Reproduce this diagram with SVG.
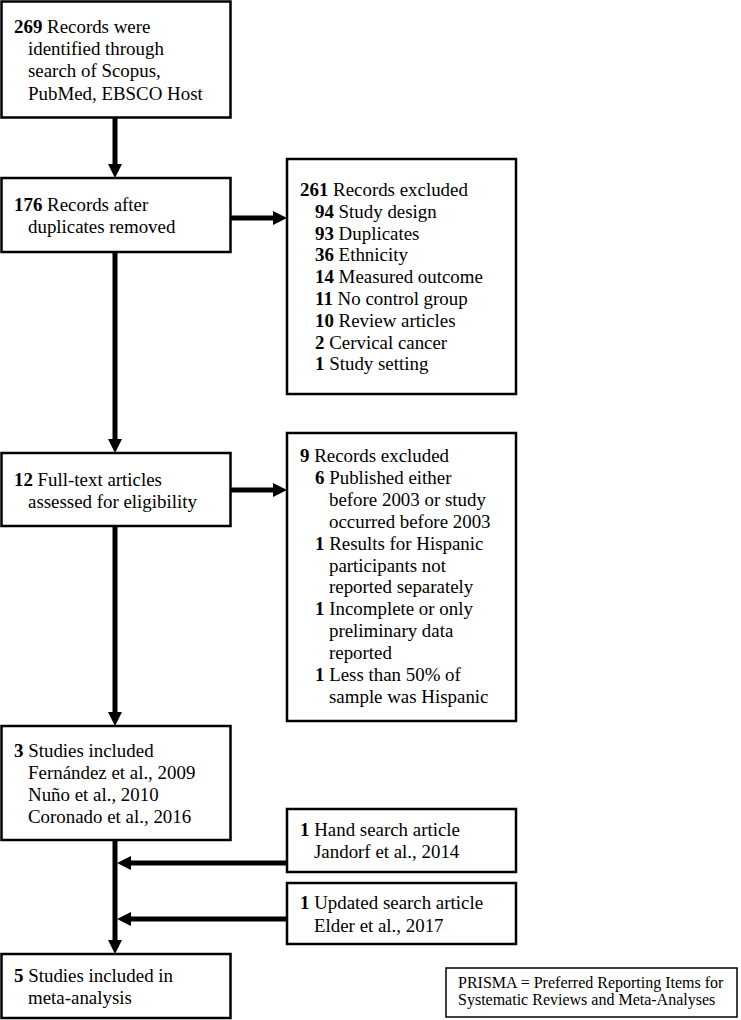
<svg xmlns="http://www.w3.org/2000/svg" width="741" height="1020" viewBox="0 0 741 1020">
<style>
.box{fill:#fff;stroke:#000;stroke-width:2.5}
.note{fill:#fff;stroke:#000;stroke-width:1.5}
.t{font-family:'Liberation Serif','Times New Roman',serif;font-size:18.9px;fill:#000}
.b{font-weight:bold}
.small{font-size:16px}
.con{stroke:#000;stroke-width:5;fill:none}
</style>
<defs>
<marker id="ah" markerUnits="userSpaceOnUse" markerWidth="14" markerHeight="14" refX="0" refY="7" orient="auto">
<path d="M0,0 L14,7 L0,14 z" fill="#000"/>
</marker>
</defs>
<rect width="741" height="1020" fill="#fff"/>
<g id="connectors">
<line class="con" x1="115" y1="117" x2="115" y2="164" marker-end="url(#ah)"/>
<line class="con" x1="231" y1="218" x2="273" y2="218" marker-end="url(#ah)"/>
<line class="con" x1="115" y1="252" x2="115" y2="439" marker-end="url(#ah)"/>
<line class="con" x1="231" y1="490" x2="273" y2="490" marker-end="url(#ah)"/>
<line class="con" x1="115" y1="526" x2="115" y2="712" marker-end="url(#ah)"/>
<line class="con" x1="115" y1="840" x2="115" y2="940" marker-end="url(#ah)"/>
<line class="con" x1="287" y1="863" x2="131" y2="863" marker-end="url(#ah)"/>
<line class="con" x1="287" y1="919" x2="131" y2="919" marker-end="url(#ah)"/>
</g>
<g class="t">
<g id="n1">
<rect class="box" x="1.5" y="1.5" width="229" height="116"/>
<text x="14" y="33"><tspan class="b">269</tspan> Records were<tspan x="28" y="55">identified through</tspan><tspan x="28" y="77">search of Scopus,</tspan><tspan x="28" y="100">PubMed, EBSCO Host</tspan></text>
</g>
<g id="n2">
<rect class="box" x="1.5" y="178" width="229" height="74"/>
<text x="14" y="211"><tspan class="b">176</tspan> Records after<tspan x="28" y="233">duplicates removed</tspan></text>
</g>
<g id="n3">
<rect class="box" x="287" y="159" width="229" height="235"/>
<text x="300" y="196"><tspan class="b">261</tspan> Records excluded</text>
<text x="315" y="217.8"><tspan class="b">94</tspan> Study design</text>
<text x="315" y="239.6"><tspan class="b">93</tspan> Duplicates</text>
<text x="315" y="261.4"><tspan class="b">36</tspan> Ethnicity</text>
<text x="315" y="283.2"><tspan class="b">14</tspan> Measured outcome</text>
<text x="315" y="305"><tspan class="b">11</tspan> No control group</text>
<text x="315" y="326.8"><tspan class="b">10</tspan> Review articles</text>
<text x="315" y="348.6"><tspan class="b">2</tspan> Cervical cancer</text>
<text x="315" y="370.4"><tspan class="b">1</tspan> Study setting</text>
</g>
<g id="n4">
<rect class="box" x="1.5" y="453" width="229" height="73"/>
<text x="14" y="486"><tspan class="b">12</tspan> Full-text articles<tspan x="28" y="508">assessed for eligibility</tspan></text>
</g>
<g id="n5">
<rect class="box" x="287" y="433" width="229" height="288"/>
<text x="300" y="462"><tspan class="b">9</tspan> Records excluded</text>
<text x="315" y="483.9"><tspan class="b">6</tspan> Published either<tspan x="329" y="505.8">before 2003 or study</tspan><tspan x="329" y="527.7">occurred before 2003</tspan></text>
<text x="315" y="549.6"><tspan class="b">1</tspan> Results for Hispanic<tspan x="329" y="571.5">participants not</tspan><tspan x="329" y="593.4">reported separately</tspan></text>
<text x="315" y="615.3"><tspan class="b">1</tspan> Incomplete or only<tspan x="329" y="637.2">preliminary data</tspan><tspan x="329" y="659.1">reported</tspan></text>
<text x="315" y="681"><tspan class="b">1</tspan> Less than 50% of<tspan x="329" y="702.9">sample was Hispanic</tspan></text>
</g>
<g id="n6">
<rect class="box" x="1.5" y="726" width="229" height="114"/>
<text x="14" y="757"><tspan class="b">3</tspan> Studies included<tspan x="28" y="779">Fernández et al., 2009</tspan><tspan x="28" y="801">Nuño et al., 2010</tspan><tspan x="28" y="823">Coronado et al., 2016</tspan></text>
</g>
<g id="n7">
<rect class="box" x="287" y="809" width="229" height="63"/>
<text x="300" y="836"><tspan class="b">1</tspan> Hand search article<tspan x="314" y="858">Jandorf et al., 2014</tspan></text>
</g>
<g id="n8">
<rect class="box" x="287" y="883" width="229" height="61"/>
<text x="300" y="909"><tspan class="b">1</tspan> Updated search article<tspan x="314" y="932">Elder et al., 2017</tspan></text>
</g>
<g id="n9">
<rect class="box" x="1.5" y="954" width="229" height="64"/>
<text x="14" y="982"><tspan class="b">5</tspan> Studies included in<tspan x="28" y="1004">meta-analysis</tspan></text>
</g>
<g id="note">
<rect class="note" x="446" y="968" width="291" height="49"/>
<text class="small" x="458" y="988">PRISMA = Preferred Reporting Items for<tspan x="458" y="1005">Systematic Reviews and Meta-Analyses</tspan></text>
</g>
</g>
</svg>
